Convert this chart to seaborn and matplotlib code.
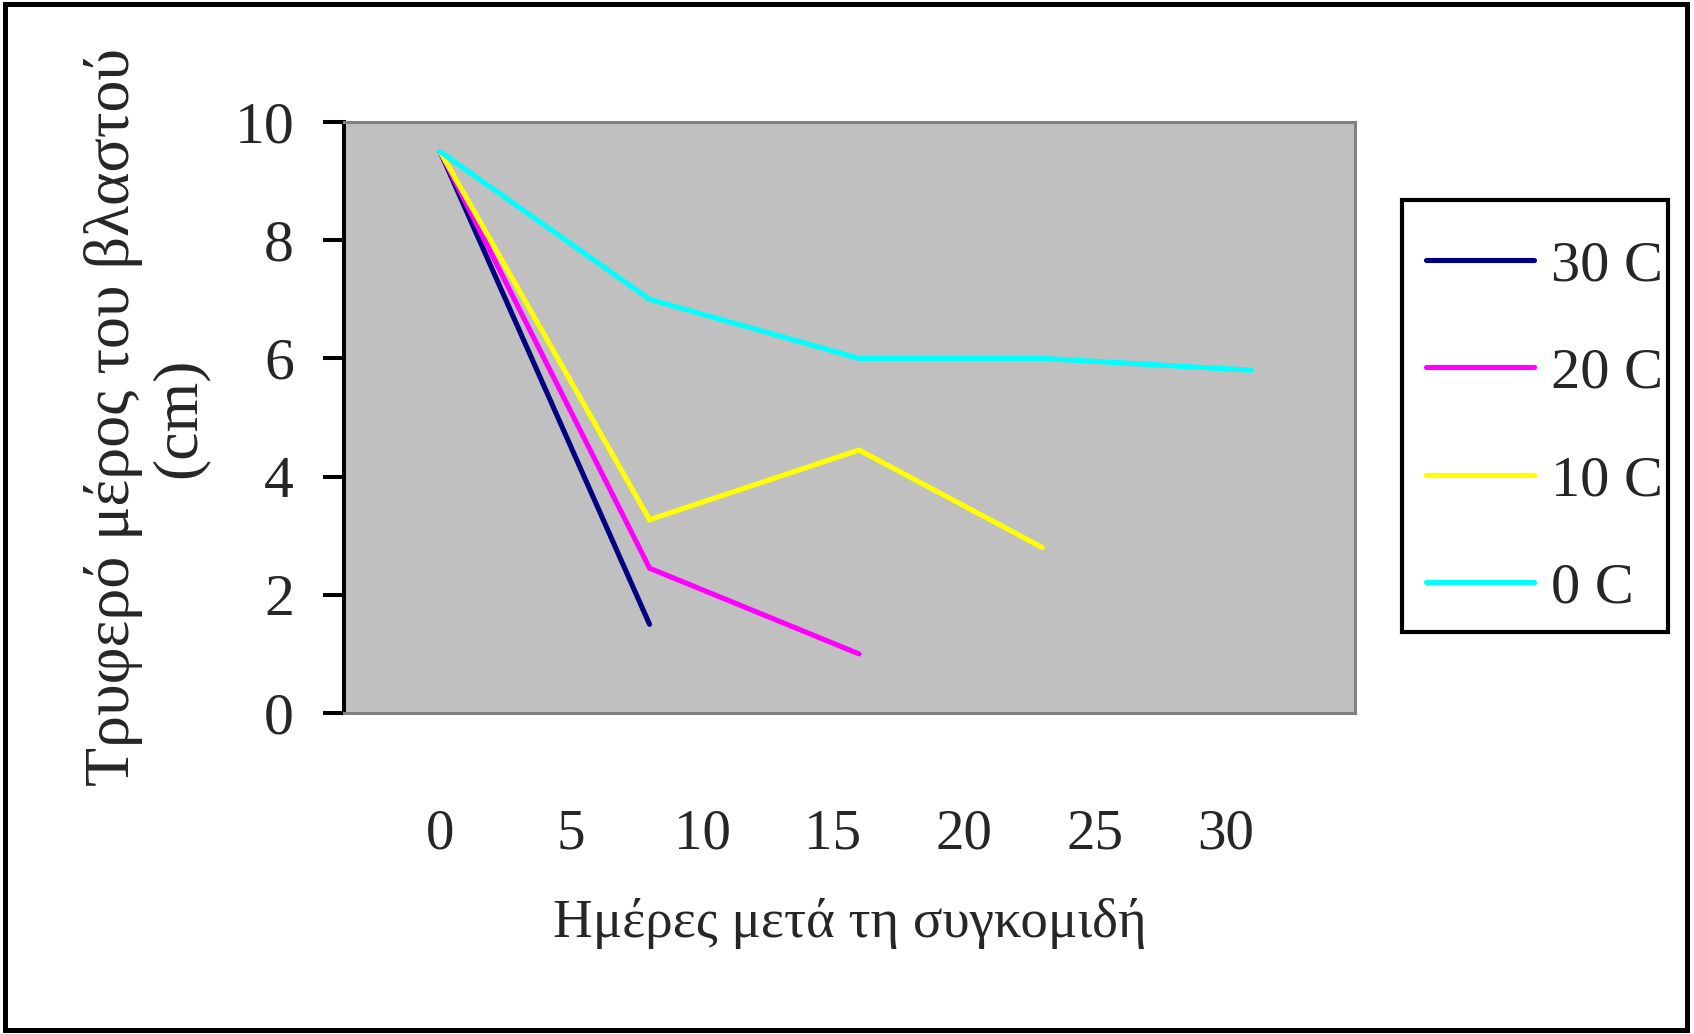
import matplotlib
matplotlib.use("Agg")
import matplotlib.pyplot as plt
import matplotlib.patches as mpatches
import seaborn as sns
import pandas as pd

# Sampling days after harvest and tender shoot length (cm) per storage temperature
days = [0, 8, 16, 23, 31]
series_names = ["30 C", "20 C", "10 C", "0 C"]
len_30 = [9.5, 1.5]
len_20 = [9.5, 2.45, 1.0]
len_10 = [9.5, 3.27, 4.45, 2.8]
len_0 = [9.5, 7.0, 6.0, 6.0, 5.8]
colors = ["#000080", "#FF00FF", "#FFFF00", "#00FFFF"]
y_ticks = [0, 2, 4, 6, 8, 10]
x_ticks = [0, 5, 10, 15, 20, 25, 30]

rows = []
for name, vals in zip(series_names, [len_30, len_20, len_10, len_0]):
    for d, v in zip(days, vals):
        rows.append({"day": d, "length": v, "temp": name})
df = pd.DataFrame(rows)

sns.set_style("white")
plt.rcParams["font.family"] = ["Liberation Serif", "DejaVu Serif"]

W, H = 1694, 1034
fig = plt.figure(figsize=(W / 100, H / 100), dpi=100)
fig.patch.set_facecolor("white")

# outer chart frame
fig.add_artist(mpatches.Rectangle((5 / W, 1 - 1030 / H), 1682 / W, 1026 / H,
                                  transform=fig.transFigure, fill=False,
                                  edgecolor="black", linewidth=3.6))
# legend box outline
fig.add_artist(mpatches.Rectangle((1402 / W, 1 - 632 / H), 266 / W, 432 / H,
                                  transform=fig.transFigure, fill=False,
                                  edgecolor="black", linewidth=3.0, zorder=5))

ax = fig.add_axes([344 / W, 1 - 713 / H, (1355 - 344) / W, (713 - 122) / H])
ax.set_facecolor("#C0C0C0")

sns.lineplot(data=df, x="day", y="length", hue="temp", hue_order=series_names,
             palette=colors, sort=False, linewidth=3.7, ax=ax, estimator=None)
for ln in ax.lines:
    ln.set_linewidth(3.7)
    ln.set_solid_joinstyle("miter")

ax.set_xlim(-3.67, 34.94)
ax.set_ylim(0, 10)
ax.set_yticks(y_ticks)
ax.set_yticklabels([str(t) for t in y_ticks])
ax.set_xticks(x_ticks)
ax.set_xticklabels([str(t) for t in x_ticks])

ax.tick_params(axis="y", direction="out", length=15, width=2.9, color="black",
               pad=21, labelsize=43, left=True)
ax.tick_params(axis="x", length=0, pad=69, labelsize=41)

for side in ["top", "right", "bottom"]:
    ax.spines[side].set_color("#808080")
    ax.spines[side].set_linewidth(2.2)
ax.spines["left"].set_color("black")
ax.spines["left"].set_linewidth(2.9)

ax.set_xlabel("Ημέρες μετά τη συγκομιδή", fontsize=39.5, labelpad=27)
ax.set_ylabel("Τρυφερό μέρος του βλαστού\n(cm)", fontsize=46, linespacing=1.17)
ax.yaxis.set_label_coords(-0.134, 0.5)

handles, labels = ax.get_legend_handles_labels()
leg = ax.legend(handles, labels, loc="upper left",
                bbox_to_anchor=(1426 / W, 1 - 240 / H), bbox_transform=fig.transFigure,
                fontsize=42, frameon=False, handlelength=1.85, handletextpad=0.3,
                labelspacing=0.93, borderpad=0, borderaxespad=0)
for line in leg.get_lines():
    line.set_linewidth(3.7)

fig.savefig("out.png", dpi=100, facecolor="white")
